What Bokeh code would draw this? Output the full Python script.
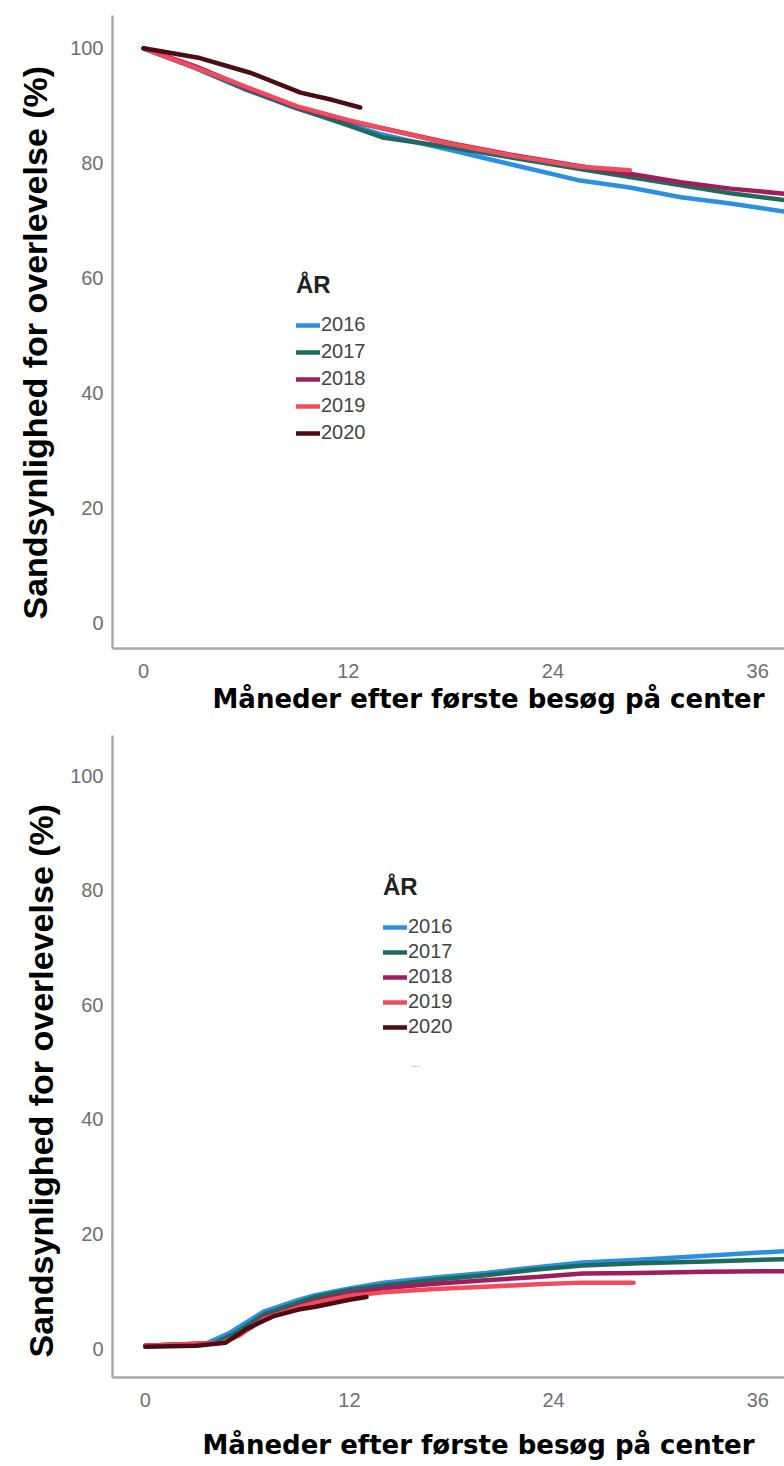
from bokeh.plotting import figure
from bokeh.models import Legend, LegendItem, FixedTicker, Range1d, Label, Title
from bokeh.layouts import column
from bokeh.embed import file_html
from bokeh.resources import INLINE

# ---------------- data ----------------
years = ["2016", "2017", "2018", "2019", "2020"]
colors = ["#2b8fe3", "#1e6b5e", "#a01c5c", "#f24b5e", "#4d0b13"]

x_ticks = [0, 12, 24, 36]
y_ticks = [0, 20, 40, 60, 80, 100]
x_title = "Måneder efter første besøg på center"
y_title = "Sandsynlighed for overlevelse (%)"
legend_title = "ÅR"

# top panel: survival (%)
surv_m_2016 = [0, 3, 6, 9, 12, 14, 18, 21.7, 25.6, 28.5, 31.5, 34.4, 37.6]
surv_v_2016 = [100, 96.6, 92.8, 89.5, 86.8, 85.0, 82.3, 79.7, 77.0, 75.8, 74.1, 73.0, 71.6]
surv_m_2017 = [0, 3, 6, 9, 12, 14, 18, 22, 25.6, 28.5, 31.5, 34.4, 37.6]
surv_v_2017 = [100, 96.7, 92.9, 89.6, 86.6, 84.5, 82.8, 80.8, 79.0, 77.6, 76.2, 74.8, 73.6]
surv_m_2018 = [0, 3, 6, 9, 12, 14, 18, 21.7, 25.6, 28.5, 31.5, 34.4, 37.6]
surv_v_2018 = [100, 96.9, 93.2, 89.8, 87.4, 86.1, 83.5, 81.4, 79.5, 78.2, 76.7, 75.6, 74.7]
surv_m_2019 = [0, 3, 6, 9, 12, 14, 17.8, 21.7, 25.6, 28.5]
surv_v_2019 = [100, 96.7, 93.3, 89.9, 87.5, 86.1, 83.5, 81.3, 79.4, 78.8]
surv_m_2020 = [0, 3.3, 6.3, 9.2, 11.1, 12.7]
surv_v_2020 = [100, 98.3, 95.7, 92.3, 91.0, 89.7]

# bottom panel: cumulative (%)
cum_m_2016 = [0, 3.5, 5, 7, 9, 10, 12, 14, 17, 20, 23, 25.7, 29, 33, 37.6]
cum_v_2016 = [0.5, 0.8, 2.8, 6.5, 8.5, 9.3, 10.5, 11.5, 12.4, 13.2, 14.2, 15.0, 15.5, 16.2, 17.0]
cum_m_2017 = [0, 4, 5.2, 7, 9, 10, 12, 14, 17, 20, 23, 25.7, 29, 33, 37.6]
cum_v_2017 = [0.5, 0.9, 2.5, 6.0, 8.0, 9.0, 10.2, 11.0, 12.0, 12.8, 13.8, 14.5, 14.9, 15.2, 15.6]
cum_m_2018 = [0, 4.5, 5.5, 7, 9, 10, 12, 14, 17, 20, 23, 25.7, 29, 33, 37.6]
cum_v_2018 = [0.5, 1.0, 2.3, 5.4, 7.4, 8.3, 9.6, 10.5, 11.3, 11.9, 12.5, 13.1, 13.2, 13.4, 13.5]
cum_m_2019 = [0, 4.5, 5.5, 7, 9, 10, 12, 14, 17, 20, 23, 25.7, 28.7]
cum_v_2019 = [0.5, 1.0, 2.3, 5.2, 7.2, 8.0, 9.2, 9.8, 10.4, 10.8, 11.2, 11.5, 11.5]
cum_m_2020 = [0, 3, 4.7, 6, 7.5, 9, 10, 12, 13]
cum_v_2020 = [0.3, 0.5, 1.0, 3.5, 5.6, 6.8, 7.3, 8.5, 9.0]

surv_series = [(surv_m_2016, surv_v_2016), (surv_m_2017, surv_v_2017), (surv_m_2018, surv_v_2018),
               (surv_m_2019, surv_v_2019), (surv_m_2020, surv_v_2020)]
cum_series = [(cum_m_2016, cum_v_2016), (cum_m_2017, cum_v_2017), (cum_m_2018, cum_v_2018),
              (cum_m_2019, cum_v_2019), (cum_m_2020, cum_v_2020)]

TICK_FONT = "'Liberation Sans Narrow', 'Liberation Sans', Arial, sans-serif"


def make_panel(series, height, x_range, y_range, b_left, b_top, b_bottom,
               tick_standoff_x, tick_standoff_y,
               xt_offset, xt_pad_top, yt_offset, yt_standoff,
               legend_loc, legend_spacing, dots=None):
    p = figure(width=784, height=height, output_backend="svg", toolbar_location=None,
               x_range=Range1d(*x_range), y_range=Range1d(*y_range),
               min_border_left=b_left, min_border_right=0, min_border_top=b_top,
               min_border_bottom=b_bottom)
    p.outline_line_color = None
    p.grid.visible = False
    p.background_fill_color = "white"
    p.border_fill_color = "white"

    renderers = []
    for (m, v), c in zip(series, colors):
        r = p.line(m, v, line_color=c, line_width=4.5, line_join="round", line_cap="round")
        renderers.append(r)

    for ax in (p.xaxis[0], p.yaxis[0]):
        ax.axis_line_color = "#a8a8a8"
        ax.axis_line_width = 2.5
        ax.major_tick_line_color = None
        ax.minor_tick_line_color = None
        ax.major_tick_out = 0
        ax.major_tick_in = 0
        ax.major_label_text_color = "#6f6f6f"
        ax.major_label_text_font = TICK_FONT
        ax.major_label_text_font_size = "20px"

    p.xaxis.ticker = FixedTicker(ticks=x_ticks)
    p.yaxis.ticker = FixedTicker(ticks=y_ticks)
    p.xaxis.major_label_standoff = tick_standoff_x
    p.yaxis.major_label_standoff = tick_standoff_y

    # axis titles as side titles so that they can be offset like the reference
    xt = Title(text=x_title, align="left", offset=xt_offset, standoff=0,
               vertical_align="top", text_font="DejaVu Sans", text_font_style="bold",
               text_font_size="26px", text_color="black")
    try:
        xt.padding = dict(top=xt_pad_top, bottom=0, left=0, right=0)
    except Exception:
        xt.standoff = 2 * xt_pad_top
    p.add_layout(xt, "below")
    p.add_layout(Title(text=y_title, align="left", offset=yt_offset, standoff=yt_standoff,
                       vertical_align="middle", text_font="Liberation Sans",
                       text_font_style="bold", text_font_size="34px", text_color="black"), "left")

    items = [LegendItem(label=y, renderers=[r]) for y, r in zip(years, renderers)]
    leg = Legend(items=items, title=legend_title, location=legend_loc)
    leg.background_fill_alpha = 0
    leg.border_line_alpha = 0
    leg.padding = 0
    leg.margin = 0
    leg.spacing = legend_spacing
    leg.glyph_width = 24
    leg.glyph_height = 20
    leg.label_height = 20
    leg.label_standoff = 1
    leg.label_text_font = "Liberation Sans"
    leg.label_text_font_size = "20px"
    leg.label_text_color = "#444444"
    leg.title_text_font = "Liberation Sans"
    leg.title_text_font_style = "bold"
    leg.title_text_font_size = "24px"
    leg.title_text_color = "#222222"
    leg.title_standoff = 14
    p.add_layout(leg)

    if dots is not None:
        p.add_layout(Label(x=dots[0], y=dots[1], text="...", text_font_size="11px",
                           text_color="#999999", text_align="center", text_baseline="middle"))
    return p


p1 = make_panel(surv_series, 720, (-1.82, 37.57), (-4.35, 105.7),
                b_left=112, b_top=15, b_bottom=72,
                tick_standoff_x=15, tick_standoff_y=9,
                xt_offset=100, xt_pad_top=3, yt_offset=29, yt_standoff=25,
                legend_loc=(184, 204), legend_spacing=4)

p2 = make_panel(cum_series, 745, (-1.93, 37.57), (-5.06, 107.0),
                b_left=107, b_top=15, b_bottom=88,
                tick_standoff_x=15, tick_standoff_y=9,
                xt_offset=90, xt_pad_top=20, yt_offset=20, yt_standoff=14,
                legend_loc=(271, 339), legend_spacing=2, dots=(15.9, 49.9))

layout = column(p1, p2, spacing=0)
open("out.html", "w").write(file_html(layout, INLINE))
